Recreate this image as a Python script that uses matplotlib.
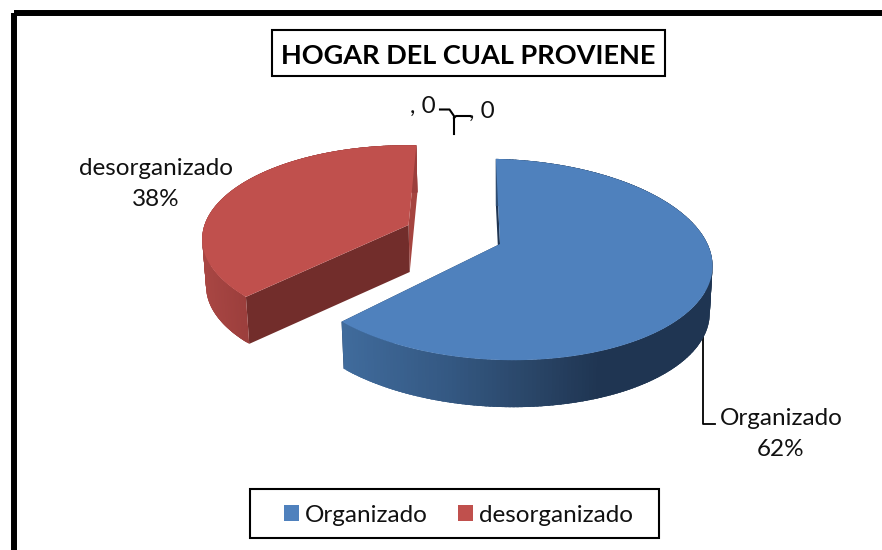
import numpy as np
import matplotlib
matplotlib.use("Agg")
import matplotlib.pyplot as plt
from matplotlib.patches import Patch, Rectangle

categories = ["Organizado", "desorganizado"]
values = [62, 38]
empty_labels = [", 0", ", 0"]
title = "HOGAR DEL CUAL PROVIENE"

plt.rcParams["font.family"] = ["Lato", "DejaVu Sans"]
W, H = 882, 550
fig = plt.figure(figsize=(W / 100, H / 100), dpi=100)
ax = fig.add_axes([0, 0, 1, 1])
ax.set_xlim(0, W)
ax.set_ylim(H, 0)
ax.axis("off")

# perspective pie projection
CX, CY, RX, RY, K = 500.0, 244.0, 210.0, 98.1, 0.1542
DEPTH, SHRINK, SHEAR = 47.0, 0.987, 0.03
START = -1.3


def project(theta, r=1.0, ex=0.0, ey=0.0, bottom=False):
    t = np.radians(theta)
    x = r * np.sin(t) + ex
    y = r * np.cos(t) + ey
    s = 1 / (1 + K * y)
    X = CX + RX * x * s
    Y = CY - RY * y * s + SHEAR * RX * x * s
    if bottom:
        X = CX + SHRINK * (X - CX)
        Y = Y + DEPTH
    return X, Y


def side_colour(x, stops):
    xs, cs = zip(*stops)
    cs = np.array(cs) / 255
    return [np.interp(x, xs, cs[:, i]) for i in range(3)]


frac = np.array(values) / sum(values)
angles = START + np.concatenate([[0], np.cumsum(frac) * 360])
explode = [(0.0, 0.0), (-0.447, 0.17)]
radius = [1.0, 0.985]
tops = ["#4F81BD", "#C0504D"]
inner = ["#1F3552", "#722D2B"]
side_stops = [
    [(343, (64, 107, 156)), (450, (52, 88, 130)), (530, (42, 70, 104)),
     (600, (31, 53, 82)), (713, (31, 53, 82))],
    [(205, (168, 70, 67)), (247, (155, 62, 60))],
]


def draw_slice(i):
    a0, a1 = angles[i], angles[i + 1]
    ex, ey = explode[i]
    r = radius[i]
    th = np.linspace(a0, a1, 240)
    # radial faces
    for a, col in ((a1, "#A5443F" if i == 1 else inner[i]), (a0, inner[i])):
        xc, yc = project(a, 0, ex, ey)
        xb, yb = project(a, 0, ex, ey, bottom=True)
        xe, ye = project(a, r, ex, ey)
        xf, yf = project(a, r, ex, ey, bottom=True)
        ax.fill([xc, xe, xf, xb], [yc, ye, yf, yb], color=col, lw=0, zorder=2)
    # curved outer wall, each strip overlaps the next so no seams show
    order = list(range(len(th) - 1))
    if i == 0:
        order = order[::-1]  # paint from the left end towards the dark side
    for n in order:
        t0, t1 = th[n], th[n + 1]
        over = 1.5 if i == 1 else -1.5
        t_a, t_b = (t0, min(t1 + over, a1)) if i == 1 else (t1, max(t0 + over, a0))
        x0, y0 = project(t_a, r, ex, ey)
        x1, y1 = project(t_b, r, ex, ey)
        x2, y2 = project(t_b, r, ex, ey, bottom=True)
        x3, y3 = project(t_a, r, ex, ey, bottom=True)
        xm, _ = project((t0 + t1) / 2, r, ex, ey)
        c = side_colour(xm, side_stops[i])
        ax.fill([x0, x1, x2, x3], [y0, y1, y2, y3], color=c, lw=0, zorder=3)
    # top
    xs, ys = project(th, r, ex, ey)
    xc, yc = project(a0, 0, ex, ey)
    ax.fill(np.r_[xc, xs], np.r_[yc, ys], color=tops[i], lw=0, zorder=4)


draw_slice(1)
draw_slice(0)

# outer frame, runs off the right and bottom edges
ax.add_patch(Rectangle((13.5, 13), 1000, 1000, fill=False, ec="black", lw=4.3,
                       joinstyle="round", zorder=1))

# title
ax.text(468.5, 55.5, title, ha="center", va="center", fontsize=19.5, fontweight="bold",
        color="black", zorder=6)
ax.add_patch(Rectangle((272, 30), 393, 46, fill=True, fc="white", ec="black", lw=1.5, zorder=5))

# data labels
txt = dict(ha="center", va="center", fontsize=17.5, color="#111111", zorder=6, linespacing=1.53)
ax.text(781, 434, f"{categories[0]}\n{values[0]}%", **txt)
ax.text(156, 184, f"{categories[1]}\n{values[1]}%", **txt)
ax.text(423, 106, empty_labels[0], **txt)
ax.text(482, 111, empty_labels[1], **txt)

# leader lines (the first one starts behind the wall of the pie)
ax.plot([702.5, 702.5, 715], [320, 424, 424], color="black", lw=1.3, zorder=2.5)
ax.plot([440, 449.5, 454, 454], [109.5, 109.5, 116, 134], color="black", lw=1.5, zorder=6)
ax.plot([470, 456, 454], [116, 116, 118], color="black", lw=1.5, zorder=6)

# legend
ax.add_patch(Rectangle((249.5, 489), 409.5, 49, fill=True, fc="white", ec="black", lw=1.5, zorder=5))
handles = [Patch(facecolor=c, edgecolor="none") for c in tops]
leg = ax.legend(handles, categories, ncol=2, loc="center",
                bbox_to_anchor=(458.5 / W, 1 - 515 / H), bbox_transform=fig.transFigure,
                fontsize=17.5, frameon=False,
                handlelength=0.62, handleheight=0.62, handletextpad=0.25, columnspacing=1.25,
                borderpad=0, borderaxespad=0, labelcolor="#111111")
leg.set_zorder(6)

fig.savefig("out.png", dpi=100)
